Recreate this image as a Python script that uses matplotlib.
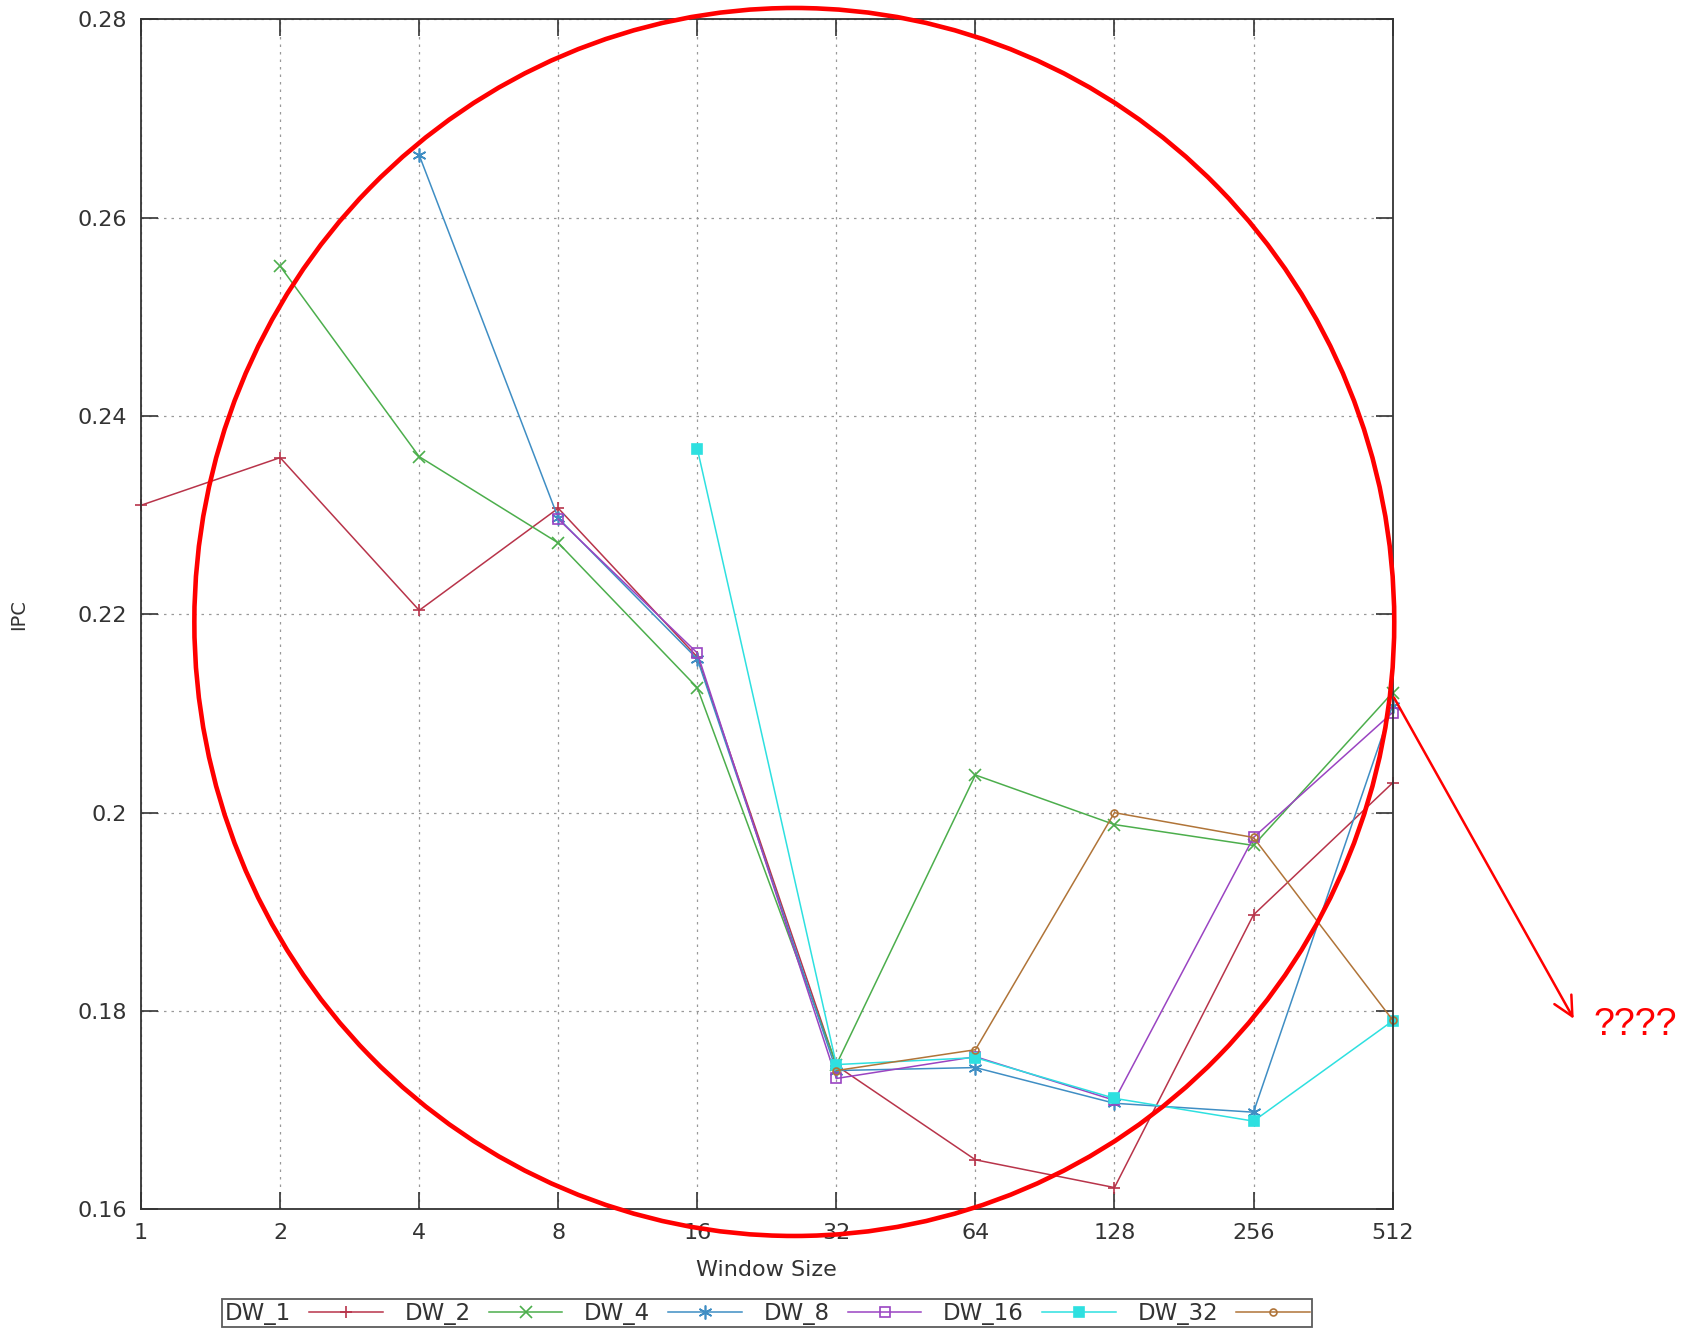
##recreating gnuplot style IPC vs window size chart
import matplotlib
matplotlib.use('Agg')
import matplotlib.pyplot as plt
from matplotlib.patches import Ellipse, FancyArrowPatch
import numpy as np

##data
window = [1, 2, 4, 8, 16, 32, 64, 128, 256, 512]
dw_1 = [0.2310, 0.2358, 0.2204, 0.2307, 0.2157, 0.1745, 0.1650, 0.1622, 0.1897, 0.2030]
dw_2 = [None, 0.2551, 0.2359, 0.2272, 0.2126, 0.1746, 0.2038, 0.1988, 0.1967, 0.2121]
dw_4 = [None, None, 0.2663, 0.2297, 0.2155, 0.1740, 0.1743, 0.1707, 0.1698, 0.2108]
dw_8 = [None, None, None, 0.2296, 0.2161, 0.1732, 0.1754, 0.1710, 0.1975, 0.2101]
dw_16 = [None, None, None, None, 0.2367, 0.1746, 0.1753, 0.1712, 0.1689, 0.1790]
dw_32 = [None, None, None, None, None, 0.1740, 0.1761, 0.2000, 0.1975, 0.1791]
labels = ['DW_1', 'DW_2', 'DW_4', 'DW_8', 'DW_16', 'DW_32']
yticks = [0.16, 0.18, 0.2, 0.22, 0.24, 0.26, 0.28]
ytick_labels = ['0.16', '0.18', '0.2', '0.22', '0.24', '0.26', '0.28']

colours = ['#b8344a', '#4cae4c', '#3f8ec4', '#9a44c2', '#2ee0e0', '#b07438']
asterisk = (6, 2, 0)
markers = ['+', 'x', asterisk, 's', 's', 'o']
msizes = [9, 8, 10, 7, 7, 5]
fills = ['full', 'full', 'full', 'none', 'full', 'none']

fig = plt.figure(figsize=(16.9, 13.29), dpi=100)
ax = fig.add_axes([0.0835, 0.090, 0.7405, 0.8955])

series = [dw_1, dw_2, dw_4, dw_8, dw_16, dw_32]
for s, lab, c, m, ms, f in zip(series, labels, colours, markers, msizes, fills):
    xs = [w for w, v in zip(window, s) if v is not None]
    ys = [v for v in s if v is not None]
    ax.plot(xs, ys, color=c, lw=1.1, marker=m, ms=ms, mew=1.2,
            fillstyle=f, label=lab, clip_on=False)

##axes design
ax.set_xscale('log', base=2)
ax.set_xlim(1, 512)
ax.set_ylim(0.16, 0.28)
ax.set_xticks(window)
ax.set_xticklabels([str(w) for w in window])
ax.minorticks_off()
ax.set_yticks(yticks)
ax.set_yticklabels(ytick_labels)
ax.tick_params(direction='in', length=12, width=1.2, top=True, right=True,
               labelsize=16, colors='#333333', pad=10)
ax.grid(True, linestyle=(0, (2, 4)), color='#999999', lw=0.9)
for sp in ax.spines.values():
    sp.set_color('#333333')
    sp.set_linewidth(1.3)
ax.set_xlabel('Window Size', fontsize=16, color='#333333', labelpad=12)
ax.set_ylabel('IPC', fontsize=14, color='#333333', labelpad=36)

##legend below, label before sample like gnuplot
leg = fig.legend(loc='center', bbox_to_anchor=(0.454, 0.012), ncol=6,
                 markerfirst=False, fontsize=16.5, frameon=True, fancybox=False,
                 handlelength=3.2, columnspacing=0.95, handletextpad=0.8,
                 borderpad=0.12, edgecolor='#333333')
leg.get_frame().set_linewidth(1.3)
for t in leg.get_texts():
    t.set_color('#333333')

##red annotation: circle, arrow and question marks
circ = Ellipse((0.470, 0.532), 0.710, 0.924, transform=fig.transFigure,
               fill=False, edgecolor='#ff0000', lw=3.3, clip_on=False)
fig.patches.append(circ)
arr = FancyArrowPatch((0.824, 0.477), (0.932, 0.2316), transform=fig.transFigure,
                      arrowstyle='->,head_length=14,head_width=7', color='#ff0000',
                      lw=1.8, mutation_scale=1)
fig.patches.append(arr)
fig.text(0.943, 0.2285, '????', color='#ff0000', fontsize=27,
         family='Liberation Sans', va='center', ha='left')

plt.savefig('out.png', dpi=100)
